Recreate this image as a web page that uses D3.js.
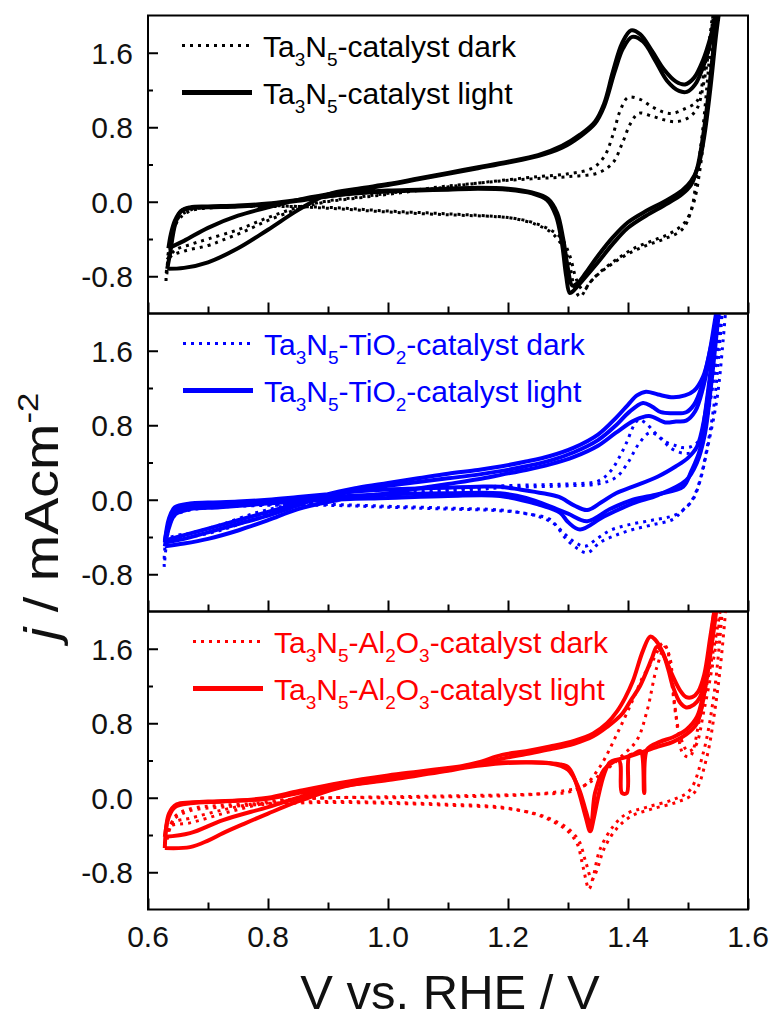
<!DOCTYPE html>
<html><head><meta charset="utf-8">
<script src="https://cdn.jsdelivr.net/npm/d3@7"></script>
<style>body{margin:0;background:#fff}</style>
</head><body>
<svg id="chart" width="773" height="1021"></svg>
<script>
// ---------- data ----------
const xTicks = [0.6, 0.8, 1.0, 1.2, 1.4, 1.6];
const xMinorTicks = [0.7, 0.9, 1.1, 1.3, 1.5];
const yTicks = [-0.8, 0.0, 0.8, 1.6];
const yMinorTicks = [-0.4, 0.4, 1.2];
const xTitle = "V vs. RHE / V";

// Panel 1: Ta3N5-catalyst (black)
const p1LightCycle1 = [[0.632,-0.72],[0.66,-0.71],[0.70,-0.65],[0.75,-0.5],[0.80,-0.3],[0.85,-0.09],[0.90,0.08],[0.95,0.14],[1.00,0.19],[1.05,0.25],[1.10,0.31],[1.15,0.37],[1.20,0.43],[1.25,0.5],[1.29,0.6],[1.32,0.72],[1.345,0.86],[1.36,1.05],[1.375,1.4],[1.39,1.7],[1.405,1.84],[1.42,1.8],[1.44,1.62],[1.46,1.42],[1.48,1.29],[1.495,1.26],[1.51,1.33],[1.525,1.52],[1.538,1.78],[1.548,2.05],[1.555,2.3],
 [1.545,1.8],[1.535,1.2],[1.525,0.7],[1.515,0.35],[1.505,0.18],[1.49,0.08],[1.46,-0.04],[1.43,-0.15],[1.40,-0.28],[1.375,-0.45],[1.35,-0.65],[1.325,-0.84],[1.31,-0.95],[1.303,-0.98],[1.297,-0.8],[1.29,-0.45],[1.28,-0.15],[1.265,0.02],[1.24,0.09],[1.20,0.13],[1.15,0.14],[1.10,0.13],[1.05,0.12],[1.00,0.11],[0.95,0.09],[0.90,0.06],[0.85,0.02],[0.80,-0.02],[0.75,-0.04],[0.70,-0.05],[0.67,-0.06],[0.655,-0.1],[0.645,-0.25],[0.637,-0.55],[0.632,-0.72]];
const p1LightCycle2 = [[0.634,-0.5],[0.66,-0.42],[0.70,-0.28],[0.75,-0.15],[0.80,-0.06],[0.85,0.02],[0.90,0.08],[0.95,0.13],[1.00,0.18],[1.05,0.24],[1.10,0.3],[1.15,0.36],[1.20,0.42],[1.25,0.49],[1.29,0.58],[1.32,0.7],[1.345,0.84],[1.36,1.02],[1.378,1.4],[1.392,1.65],[1.407,1.77],[1.425,1.72],[1.445,1.52],[1.465,1.3],[1.485,1.19],[1.498,1.18],[1.512,1.26],[1.527,1.48],[1.54,1.78],[1.55,2.05],[1.557,2.3],
 [1.547,1.8],[1.537,1.2],[1.527,0.7],[1.517,0.38],[1.505,0.22],[1.49,0.12],[1.46,0.0],[1.43,-0.1],[1.40,-0.22],[1.375,-0.38],[1.35,-0.58],[1.33,-0.76],[1.315,-0.88],[1.307,-0.9],[1.30,-0.72],[1.292,-0.4],[1.282,-0.12],[1.267,0.03],[1.24,0.1],[1.20,0.14],[1.15,0.15],[1.10,0.14],[1.05,0.13],[1.00,0.12],[0.95,0.1],[0.90,0.06],[0.85,0.01],[0.80,-0.03],[0.75,-0.05],[0.70,-0.06],[0.67,-0.07],[0.655,-0.1],[0.645,-0.2],[0.638,-0.35],[0.634,-0.5]];
const p1DarkCycle1 = [[0.630,-0.85],[0.636,-0.6],[0.66,-0.53],[0.70,-0.47],[0.725,-0.41],[0.76,-0.32],[0.80,-0.2],[0.85,-0.08],[0.89,-0.01],[0.95,0.04],[1.00,0.08],[1.05,0.12],[1.10,0.16],[1.15,0.2],[1.19,0.23],[1.25,0.27],[1.30,0.3],[1.34,0.36],[1.36,0.48],[1.375,0.72],[1.387,0.98],[1.40,1.12],[1.42,1.1],[1.44,1.02],[1.46,0.96],[1.475,0.95],[1.495,1.0],[1.515,1.08],[1.528,1.45],[1.538,1.85],[1.545,2.3],
 [1.535,1.5],[1.525,0.8],[1.515,0.3],[1.505,-0.1],[1.49,-0.3],[1.46,-0.4],[1.43,-0.47],[1.40,-0.56],[1.375,-0.66],[1.35,-0.78],[1.335,-0.88],[1.32,-1.02],[1.31,-0.9],[1.30,-0.6],[1.285,-0.42],[1.27,-0.32],[1.245,-0.24],[1.21,-0.18],[1.18,-0.16],[1.10,-0.14],[1.00,-0.11],[0.90,-0.07],[0.80,-0.04],[0.72,-0.05],[0.67,-0.09],[0.65,-0.18],[0.64,-0.4],[0.630,-0.85]];
const p1DarkCycle2 = [[0.632,-0.62],[0.645,-0.52],[0.67,-0.46],[0.70,-0.4],[0.75,-0.3],[0.80,-0.17],[0.85,-0.06],[0.90,0.01],[0.95,0.05],[1.00,0.09],[1.05,0.13],[1.10,0.17],[1.15,0.2],[1.20,0.23],[1.25,0.25],[1.30,0.27],[1.35,0.31],[1.375,0.42],[1.39,0.62],[1.405,0.85],[1.418,0.95],[1.44,0.92],[1.46,0.88],[1.48,0.86],[1.50,0.9],[1.515,1.0],[1.527,1.3],[1.537,1.75],[1.545,2.1],[1.55,2.3],
 [1.54,1.6],[1.53,0.9],[1.52,0.35],[1.51,0.0],[1.495,-0.22],[1.47,-0.34],[1.44,-0.42],[1.41,-0.5],[1.385,-0.6],[1.36,-0.72],[1.34,-0.84],[1.326,-0.95],[1.315,-0.85],[1.303,-0.58],[1.29,-0.4],[1.27,-0.3],[1.24,-0.22],[1.20,-0.17],[1.10,-0.13],[1.00,-0.1],[0.90,-0.06],[0.80,-0.05],[0.72,-0.06],[0.67,-0.1],[0.65,-0.2],[0.638,-0.42],[0.632,-0.62]];

// Panel 2: Ta3N5-TiO2-catalyst (blue)
const p2LightCycle1 = [[0.628,-0.46],[0.66,-0.42],[0.70,-0.35],[0.75,-0.26],[0.80,-0.17],[0.85,-0.06],[0.90,0.06],[0.95,0.13],[1.00,0.18],[1.05,0.23],[1.10,0.28],[1.15,0.32],[1.19,0.36],[1.23,0.41],[1.27,0.47],[1.31,0.56],[1.35,0.7],[1.38,0.88],[1.40,1.02],[1.415,1.12],[1.43,1.16],[1.45,1.13],[1.475,1.1],[1.495,1.12],[1.51,1.17],[1.525,1.32],[1.537,1.61],[1.548,1.97],[1.556,2.3],
 [1.546,1.8],[1.537,1.3],[1.528,0.9],[1.515,0.57],[1.50,0.45],[1.48,0.36],[1.45,0.25],[1.408,0.14],[1.38,0.07],[1.355,-0.03],[1.332,-0.11],[1.31,-0.06],[1.285,0.03],[1.258,0.07],[1.22,0.11],[1.187,0.14],[1.15,0.14],[1.10,0.13],[1.05,0.12],[1.00,0.11],[0.95,0.09],[0.90,0.06],[0.85,0.03],[0.80,0.0],[0.75,-0.02],[0.70,-0.03],[0.67,-0.04],[0.645,-0.08],[0.635,-0.2],[0.628,-0.46]];
const p2LightCycle2 = [[0.628,-0.44],[0.66,-0.38],[0.70,-0.31],[0.75,-0.22],[0.80,-0.13],[0.85,-0.04],[0.90,0.05],[0.95,0.1],[1.00,0.15],[1.05,0.19],[1.10,0.23],[1.15,0.27],[1.19,0.31],[1.23,0.36],[1.27,0.42],[1.31,0.51],[1.35,0.64],[1.38,0.8],[1.40,0.93],[1.425,1.04],[1.44,1.0],[1.455,0.94],[1.475,0.93],[1.497,0.94],[1.51,1.02],[1.522,1.2],[1.535,1.55],[1.546,1.97],[1.555,2.3],
 [1.545,1.8],[1.536,1.3],[1.527,0.85],[1.52,0.54],[1.505,0.3],[1.492,0.14],[1.45,0.06],[1.408,0.0],[1.37,-0.1],[1.332,-0.23],[1.30,-0.15],[1.27,-0.07],[1.23,0.02],[1.187,0.07],[1.10,0.07],[1.00,0.06],[0.90,0.03],[0.80,-0.02],[0.72,-0.05],[0.67,-0.07],[0.645,-0.12],[0.635,-0.25],[0.628,-0.44]];
const p2LightCycle3 = [[0.628,-0.5],[0.66,-0.47],[0.70,-0.42],[0.75,-0.33],[0.80,-0.22],[0.85,-0.1],[0.92,0.0],[1.00,0.07],[1.05,0.12],[1.10,0.17],[1.15,0.22],[1.19,0.27],[1.23,0.32],[1.27,0.38],[1.31,0.46],[1.35,0.58],[1.38,0.72],[1.41,0.85],[1.435,0.9],[1.462,0.83],[1.48,0.84],[1.497,0.85],[1.512,0.95],[1.525,1.2],[1.538,1.6],[1.548,2.0],[1.556,2.3],
 [1.548,1.8],[1.538,1.2],[1.528,0.7],[1.515,0.4],[1.497,0.21],[1.45,0.05],[1.408,-0.04],[1.36,-0.18],[1.32,-0.32],[1.30,-0.24],[1.287,-0.14],[1.25,-0.05],[1.187,0.04],[1.10,0.04],[1.00,0.02],[0.90,0.0],[0.80,-0.04],[0.72,-0.08],[0.67,-0.1],[0.645,-0.16],[0.635,-0.3],[0.628,-0.5]];
const p2DarkCycle1 = [[0.627,-0.72],[0.632,-0.43],[0.65,-0.38],[0.67,-0.36],[0.72,-0.27],[0.78,-0.14],[0.84,-0.05],[0.89,0.0],[0.95,0.04],[1.00,0.07],[1.05,0.09],[1.10,0.11],[1.15,0.13],[1.19,0.15],[1.25,0.16],[1.30,0.17],[1.35,0.2],[1.37,0.3],[1.385,0.45],[1.398,0.62],[1.41,0.8],[1.418,0.86],[1.43,0.82],[1.445,0.72],[1.46,0.63],[1.48,0.58],[1.49,0.56],[1.505,0.57],[1.52,0.65],[1.532,0.9],[1.545,1.4],[1.556,2.0],[1.565,2.3],
 [1.557,1.6],[1.548,1.07],[1.532,0.54],[1.52,0.2],[1.508,0.0],[1.49,-0.12],[1.475,-0.21],[1.44,-0.27],[1.408,-0.32],[1.38,-0.38],[1.353,-0.46],[1.332,-0.57],[1.315,-0.52],[1.298,-0.43],[1.285,-0.32],[1.27,-0.21],[1.23,-0.15],[1.187,-0.11],[1.10,-0.09],[1.00,-0.07],[0.90,-0.05],[0.80,-0.05],[0.72,-0.07],[0.67,-0.09],[0.645,-0.14],[0.635,-0.3],[0.627,-0.72]];
const p2DarkCycle2 = [[0.63,-0.5],[0.645,-0.42],[0.67,-0.4],[0.72,-0.33],[0.78,-0.2],[0.84,-0.08],[0.90,-0.01],[0.95,0.03],[1.00,0.05],[1.05,0.07],[1.10,0.09],[1.15,0.11],[1.19,0.13],[1.25,0.14],[1.30,0.15],[1.35,0.17],[1.38,0.24],[1.40,0.4],[1.418,0.6],[1.437,0.72],[1.455,0.66],[1.47,0.56],[1.492,0.5],[1.51,0.52],[1.525,0.7],[1.538,1.1],[1.55,1.7],[1.56,2.3],
 [1.552,1.6],[1.543,1.0],[1.53,0.5],[1.517,0.15],[1.503,-0.04],[1.48,-0.16],[1.44,-0.22],[1.40,-0.27],[1.37,-0.33],[1.348,-0.42],[1.328,-0.5],[1.31,-0.45],[1.293,-0.36],[1.275,-0.25],[1.24,-0.16],[1.19,-0.12],[1.10,-0.1],[1.00,-0.08],[0.90,-0.06],[0.80,-0.06],[0.72,-0.08],[0.67,-0.11],[0.645,-0.17],[0.635,-0.3],[0.63,-0.5]];

// Panel 3: Ta3N5-Al2O3-catalyst (red)
const p3LightCycle1 = [[0.628,-0.54],[0.67,-0.53],[0.70,-0.46],[0.725,-0.38],[0.76,-0.28],[0.80,-0.17],[0.85,-0.04],[0.92,0.11],[1.00,0.2],[1.05,0.26],[1.10,0.31],[1.15,0.38],[1.19,0.46],[1.23,0.5],[1.27,0.55],[1.31,0.61],[1.342,0.69],[1.365,0.8],[1.382,0.93],[1.395,1.07],[1.408,1.25],[1.425,1.58],[1.437,1.73],[1.445,1.7],[1.455,1.6],[1.465,1.45],[1.475,1.3],[1.487,1.15],[1.497,1.08],[1.507,1.08],[1.517,1.14],[1.527,1.32],[1.537,1.72],[1.545,2.05],[1.552,2.3],
 [1.545,1.9],[1.535,1.45],[1.525,1.1],[1.515,0.87],[1.497,0.73],[1.475,0.65],[1.453,0.6],[1.432,0.52],[1.427,0.05],[1.421,0.5],[1.41,0.47],[1.402,0.45],[1.398,0.05],[1.39,0.05],[1.385,0.4],[1.37,0.38],[1.36,0.25],[1.35,0.0],[1.343,-0.22],[1.337,-0.36],[1.33,-0.22],[1.32,0.02],[1.31,0.22],[1.30,0.33],[1.285,0.36],[1.27,0.37],[1.23,0.38],[1.19,0.38],[1.15,0.36],[1.10,0.32],[1.05,0.28],[1.00,0.24],[0.92,0.16],[0.85,0.07],[0.80,0.0],[0.75,-0.03],[0.70,-0.04],[0.67,-0.05],[0.648,-0.07],[0.635,-0.17],[0.628,-0.54]];
const p3LightCycle2 = [[0.628,-0.42],[0.67,-0.38],[0.725,-0.24],[0.80,-0.1],[0.85,0.0],[0.92,0.12],[1.00,0.19],[1.05,0.24],[1.10,0.29],[1.15,0.35],[1.19,0.42],[1.23,0.47],[1.27,0.52],[1.31,0.58],[1.342,0.66],[1.365,0.76],[1.39,0.9],[1.405,1.05],[1.42,1.2],[1.44,1.5],[1.448,1.62],[1.458,1.55],[1.467,1.38],[1.475,1.19],[1.487,1.02],[1.497,0.97],[1.51,1.0],[1.52,1.08],[1.532,1.4],[1.542,1.9],[1.55,2.3],
 [1.54,1.7],[1.528,1.15],[1.515,0.8],[1.497,0.68],[1.475,0.6],[1.45,0.55],[1.41,0.46],[1.38,0.4],[1.36,0.3],[1.345,0.05],[1.338,-0.3],[1.33,-0.15],[1.318,0.1],[1.30,0.3],[1.27,0.37],[1.19,0.37],[1.10,0.3],[1.00,0.22],[0.92,0.15],[0.85,0.05],[0.80,-0.01],[0.725,-0.04],[0.67,-0.06],[0.645,-0.1],[0.635,-0.2],[0.628,-0.42]];
const p3DarkCycle1 = [[0.632,-0.45],[0.637,-0.31],[0.67,-0.27],[0.725,-0.17],[0.78,-0.08],[0.83,-0.03],[0.90,0.0],[1.00,0.0],[1.10,0.01],[1.187,0.02],[1.25,0.04],[1.298,0.08],[1.325,0.12],[1.353,0.33],[1.382,0.69],[1.408,1.05],[1.425,1.3],[1.442,1.48],[1.458,1.66],[1.465,1.6],[1.47,1.4],[1.48,0.87],[1.492,0.47],[1.503,0.44],[1.52,0.87],[1.537,1.4],[1.553,1.98],[1.56,2.3],
 [1.553,1.7],[1.542,1.05],[1.525,0.47],[1.503,0.08],[1.475,-0.02],[1.432,-0.1],[1.398,-0.17],[1.375,-0.31],[1.353,-0.56],[1.342,-0.85],[1.335,-0.98],[1.325,-0.74],[1.315,-0.49],[1.298,-0.35],[1.27,-0.24],[1.242,-0.17],[1.187,-0.1],[1.10,-0.07],[1.00,-0.05],[0.90,-0.04],[0.80,-0.06],[0.725,-0.08],[0.67,-0.12],[0.645,-0.2],[0.632,-0.45]];
const p3DarkCycle2 = [[0.632,-0.36],[0.645,-0.26],[0.67,-0.22],[0.725,-0.13],[0.78,-0.06],[0.83,-0.02],[0.90,0.0],[1.00,0.01],[1.10,0.02],[1.19,0.03],[1.25,0.04],[1.30,0.06],[1.33,0.14],[1.36,0.28],[1.39,0.45],[1.415,0.62],[1.432,0.94],[1.448,1.4],[1.462,1.62],[1.47,1.5],[1.477,1.05],[1.487,0.66],[1.50,0.5],[1.512,0.55],[1.527,0.95],[1.543,1.5],[1.558,2.1],[1.565,2.3],
 [1.557,1.6],[1.545,0.95],[1.53,0.4],[1.51,0.05],[1.48,-0.05],[1.44,-0.12],[1.405,-0.2],[1.38,-0.34],[1.36,-0.55],[1.348,-0.78],[1.34,-0.88],[1.33,-0.7],[1.318,-0.46],[1.30,-0.33],[1.275,-0.24],[1.245,-0.17],[1.19,-0.11],[1.10,-0.08],[1.00,-0.06],[0.90,-0.05],[0.80,-0.07],[0.725,-0.1],[0.67,-0.14],[0.645,-0.22],[0.632,-0.36]];

// legend labels: [text, isSubscript]
const p1LegendDark = [["Ta",0],["3",1],["N",0],["5",1],["-catalyst dark",0]];
const p1LegendLight = [["Ta",0],["3",1],["N",0],["5",1],["-catalyst light",0]];
const p2LegendDark = [["Ta",0],["3",1],["N",0],["5",1],["-TiO",0],["2",1],["-catalyst dark",0]];
const p2LegendLight = [["Ta",0],["3",1],["N",0],["5",1],["-TiO",0],["2",1],["-catalyst light",0]];
const p3LegendDark = [["Ta",0],["3",1],["N",0],["5",1],["-Al",0],["2",1],["O",0],["3",1],["-catalyst dark",0]];
const p3LegendLight = [["Ta",0],["3",1],["N",0],["5",1],["-Al",0],["2",1],["O",0],["3",1],["-catalyst light",0]];

// ---------- layout ----------
const FONT = "'Liberation Sans', Arial, Helvetica, sans-serif";
const svg = d3.select("#chart");
const left = 148, right = 748, top0 = 15.5, ph = 298;
const x = d3.scaleLinear().domain([0.6, 1.6]).range([left, right]);
const fmt = d => d.toFixed(1);

const panels = [
  {color: "#000000", dark: [p1DarkCycle1, p1DarkCycle2], light: [p1LightCycle1, p1LightCycle2],
   legDark: p1LegendDark, legLight: p1LegendLight, lx: 182},
  {color: "#0000ff", dark: [p2DarkCycle1, p2DarkCycle2], light: [p2LightCycle1, p2LightCycle2, p2LightCycle3],
   legDark: p2LegendDark, legLight: p2LegendLight, lx: 183},
  {color: "#ff0000", dark: [p3DarkCycle1, p3DarkCycle2], light: [p3LightCycle1, p3LightCycle2],
   legDark: p3LegendDark, legLight: p3LegendLight, lx: 193}
];

const DASH = "3,5";

panels.forEach((p, i) => {
  const top = top0 + i * ph;
  const y = d3.scaleLinear().domain([-1.2, 2.0]).range([top + ph, top]);
  const g = svg.append("g");
  const clipId = "clip" + i;
  svg.append("clipPath").attr("id", clipId).append("rect")
    .attr("x", left).attr("y", top).attr("width", right - left).attr("height", ph);

  const line = d3.line().x(d => x(d[0])).y(d => y(d[1])).curve(d3.curveCatmullRom.alpha(0.5));
  const plot = g.append("g").attr("clip-path", `url(#${clipId})`);
  p.light.forEach(c => plot.append("path").attr("d", line(c)).attr("fill", "none")
    .attr("stroke", p.color).attr("stroke-width", 4).attr("stroke-linejoin", "round"));
  p.dark.forEach(c => plot.append("path").attr("d", line(c)).attr("fill", "none")
    .attr("stroke", p.color).attr("stroke-width", 3).attr("stroke-dasharray", DASH));

  // frame
  g.append("rect").attr("x", left).attr("y", top).attr("width", right - left).attr("height", ph)
    .attr("fill", "none").attr("stroke", "#000").attr("stroke-width", 2);

  // y axis ticks (inside)
  const yAx = d3.axisRight(y).tickValues(yTicks).tickSize(10).tickFormat("");
  g.append("g").attr("transform", `translate(${left},0)`).call(yAx)
    .call(s => { s.select(".domain").remove(); s.selectAll("line").attr("stroke-width", 2); });
  const yAxMin = d3.axisRight(y).tickValues(yMinorTicks).tickSize(5).tickFormat("");
  g.append("g").attr("transform", `translate(${left},0)`).call(yAxMin)
    .call(s => { s.select(".domain").remove(); s.selectAll("line").attr("stroke-width", 2); });
  // y labels
  g.selectAll(".ylab").data(yTicks).enter().append("text")
    .attr("x", left - 15).attr("y", d => y(d)).attr("dy", "0.36em")
    .attr("text-anchor", "end").attr("font-family", FONT).attr("font-size", 30).attr("fill", "#111")
    .text(fmt);

  // x ticks (inside, bottom)
  const xAx = d3.axisTop(x).tickValues(xTicks).tickSize(11).tickFormat("");
  g.append("g").attr("transform", `translate(0,${top + ph})`).call(xAx)
    .call(s => { s.select(".domain").remove(); s.selectAll("line").attr("stroke-width", 2); });
  const xAxMin = d3.axisTop(x).tickValues(xMinorTicks).tickSize(7).tickFormat("");
  g.append("g").attr("transform", `translate(0,${top + ph})`).call(xAxMin)
    .call(s => { s.select(".domain").remove(); s.selectAll("line").attr("stroke-width", 2); });

  // legend
  const legRows = [[p.legDark, true, top + 30], [p.legLight, false, top + 77]];
  legRows.forEach(([parts, dotted, ly]) => {
    const ln = g.append("line").attr("x1", p.lx).attr("x2", p.lx + 70).attr("y1", ly).attr("y2", ly)
      .attr("stroke", p.color);
    if (dotted) ln.attr("stroke-width", 3).attr("stroke-dasharray", DASH);
    else ln.attr("stroke-width", 5);
    const t = g.append("text").attr("x", p.lx + 81).attr("y", ly + 11)
      .attr("font-family", FONT).attr("font-size", 30).attr("fill", p.color);
    let prevSub = false;
    parts.forEach(([txt, sub]) => {
      const ts = t.append("tspan").text(txt);
      if (sub) { ts.attr("font-size", 19).attr("dy", prevSub ? 0 : 9); }
      else if (prevSub) { ts.attr("dy", -9); }
      prevSub = !!sub;
    });
  });

  if (i === panels.length - 1) {
    g.selectAll(".xlab").data(xTicks).enter().append("text")
      .attr("x", d => x(d)).attr("y", top + ph + 37)
      .attr("text-anchor", "middle").attr("font-family", FONT).attr("font-size", 30).attr("fill", "#111")
      .text(fmt);
  }
});

// axis titles
svg.append("text").attr("x", (left + right) / 2 + 2).attr("y", 1009).attr("text-anchor", "middle")
  .attr("font-family", FONT).attr("font-size", 49).attr("fill", "#111").text(xTitle);

const yt = svg.append("text").attr("transform", "translate(58,640) rotate(-90) scale(1.16,1)")
  .attr("font-family", FONT).attr("font-size", 48).attr("fill", "#111");
yt.append("tspan").attr("font-style", "italic").text("j");
yt.append("tspan").text(" / mAcm");
yt.append("tspan").attr("font-size", 30).attr("dy", -20).text("-2");
</script>
</body></html>
